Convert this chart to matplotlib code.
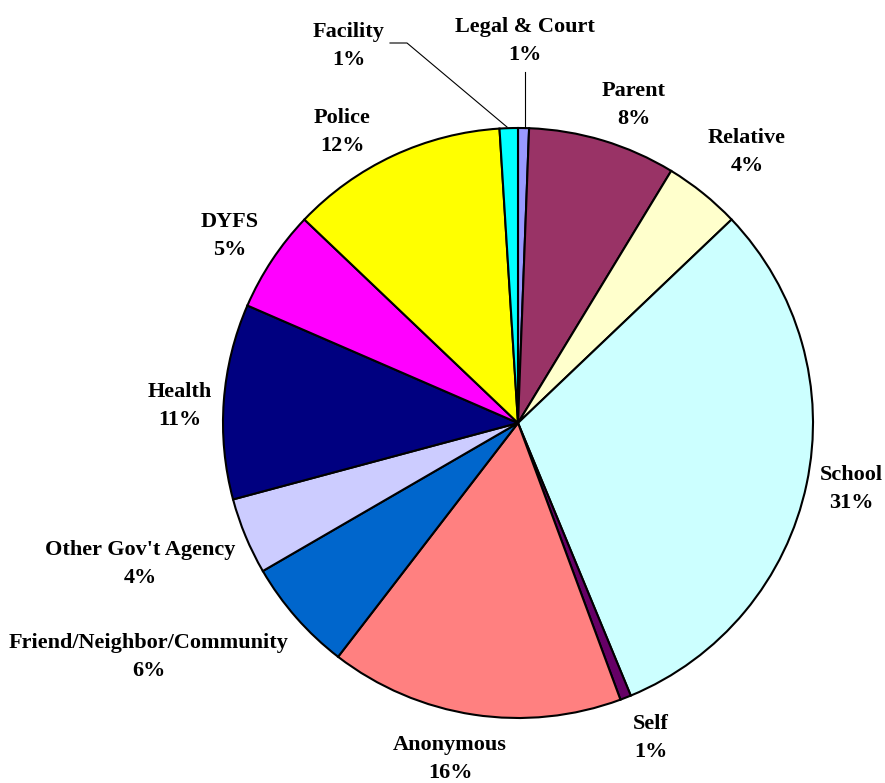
import matplotlib
matplotlib.use("Agg")
import matplotlib.pyplot as plt
import numpy as np

categories = ["Legal & Court", "Parent", "Relative", "School", "Self", "Anonymous",
              "Friend/Neighbor/Community", "Other Gov't Agency", "Health", "DYFS",
              "Police", "Facility"]
values = [0.6, 8.1, 4.2, 30.9, 0.6, 16.1, 6.2, 4.2, 10.7, 5.6, 11.9, 1.0]
colors = ["#9999FF", "#993366", "#FFFFCC", "#CCFFFF", "#660066", "#FF8080",
          "#0066CC", "#CCCCFF", "#000080", "#FF00FF", "#FFFF00", "#00FFFF"]
pct_labels = ["1%", "8%", "4%", "31%", "1%", "16%", "6%", "4%", "11%", "5%", "12%", "1%"]

# label centres in pixel coordinates (layout)
label_px = [(525, 41), (634, 105), (747, 152), (851, 489), (651, 738), (450, 759),
            (149, 657), (140, 564), (180, 406), (230, 236), (342, 132), (349, 46)]

W, H = 885, 783
cx, cy, R = 518, 423, 295

fig = plt.figure(figsize=(W / 100, H / 100), dpi=100)
ax = fig.add_axes([0, 0, 1, 1])

wedges, _ = ax.pie(values, colors=colors, startangle=90, counterclock=False,
                   radius=1.0, wedgeprops=dict(edgecolor="black", linewidth=1.5))
ax.set_aspect("auto")
ax.set_xlim(-cx / R, (W - cx) / R)
ax.set_ylim(-(H - cy) / R, cy / R)
ax.axis("off")

def to_data(px, py):
    return (px - cx) / R, (cy - py) / R

for cat, p, (px, py) in zip(categories, pct_labels, label_px):
    x, y = to_data(px, py)
    ax.text(x, y, f"{cat}\n{p}", ha="center", va="center",
            multialignment="center", fontsize=16, fontweight="bold",
            family="Liberation Serif", linespacing=1.55)

# leader lines
ax.plot(*zip(to_data(390, 43), to_data(407, 43), to_data(507, 127)), color="black", lw=0.8)
ax.plot(*zip(to_data(525, 72), to_data(525, 128)), color="black", lw=0.8)

fig.savefig("out.png", dpi=100)
